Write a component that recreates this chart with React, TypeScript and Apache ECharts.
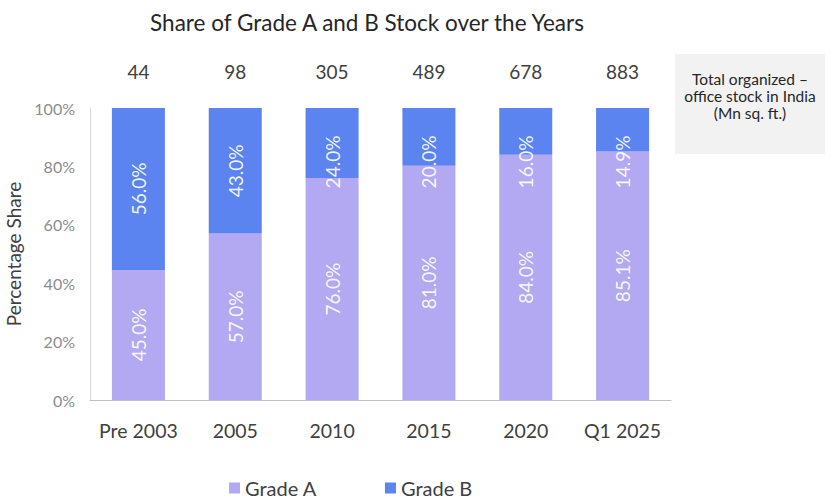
import React, { useEffect, useRef } from "react";
import * as echarts from "echarts";

const categories = ["Pre 2003", "2005", "2010", "2015", "2020", "Q1 2025"];
const gradeA = [45.0, 57.0, 76.0, 81.0, 84.0, 85.1];
const gradeB = [56.0, 43.0, 24.0, 20.0, 16.0, 14.9];
const totalStock = ["44", "98", "305", "489", "678", "883"];
const yTicks = [0, 20, 40, 60, 80, 100];
const noteLines = ["Total organized \u2013", "office stock in India", "(Mn sq. ft.)"];

const FONT = "Lato, 'Open Sans', sans-serif";
const COLOR_A = "#b3a8f2";
const COLOR_B = "#5b84f0";
const PLOT_H = 292;

export default function App() {
  const ref = useRef<HTMLDivElement>(null);
  useEffect(() => {
    document.body.style.margin = "0";
    if (!ref.current) return;
    const chart = echarts.init(ref.current, undefined, { renderer: "svg" });
    const share = (i: number, v: number) => (v / (gradeA[i] + gradeB[i])) * 100;
    const dataA = gradeA.map((v, i) => ({ value: share(i, v), raw: v }));
    const dataB = gradeB.map((v, i) => {
      const segPx = (share(i, v) / 100) * PLOT_H;
      const item: any = { value: share(i, v), raw: v };
      if (segPx / 2 < 54) {
        item.label = { position: ["50%", 54] };
      }
      return item;
    });
    const labelCommon = {
      show: true,
      rotate: 90,
      position: "inside",
      align: "center",
      verticalAlign: "middle",
      color: "rgba(255,255,255,0.92)",
      fontFamily: FONT,
      fontSize: 19,
      formatter: (p: any) => p.data.raw.toFixed(1) + "%",
    };
    chart.setOption({
      animation: false,
      backgroundColor: "#ffffff",
      textStyle: { fontFamily: FONT },
      title: {
        text: "Share of Grade A and B Stock over the Years",
        left: 362,
        textAlign: "center",
        top: 6,
        textStyle: { fontFamily: FONT, fontSize: 22.5, fontWeight: "normal", color: "#262626" },
      },
      grid: { left: 90, right: 154, top: 108, bottom: 102, outerBoundsMode: "none", containLabel: false },
      legend: {
        left: 224,
        top: 473,
        itemWidth: 11,
        itemHeight: 11,
        itemGap: 68,
        icon: "rect",
        textStyle: { fontFamily: FONT, fontSize: 20, color: "#404040" },
        data: ["Grade A", "Grade B"],
      },
      xAxis: [
        {
          type: "category",
          data: categories,
          axisLine: { lineStyle: { color: "#bfbfbf" } },
          axisTick: { show: false },
          axisLabel: { fontFamily: FONT, fontSize: 19.5, color: "#404040", margin: 20, interval: 0, hideOverlap: false },
        },
        {
          type: "category",
          position: "top",
          data: totalStock,
          axisLine: { show: false },
          axisTick: { show: false },
          axisLabel: { fontFamily: FONT, fontSize: 19, color: "#404040", margin: 27, interval: 0 },
        },
      ],
      yAxis: {
        type: "value",
        min: yTicks[0],
        max: yTicks[yTicks.length - 1],
        interval: 20,
        name: "Percentage Share",
        nameLocation: "middle",
        nameGap: 64,
        nameTextStyle: { fontFamily: FONT, fontSize: 19, color: "#404040" },
        axisLine: { show: true, lineStyle: { color: "#d9d9d9" } },
        axisTick: { show: false },
        splitLine: { show: false },
        axisLabel: { fontFamily: FONT, fontSize: 16, color: "#8c8c8c", margin: 15, formatter: "{value}%" },
      },
      graphic: [
        {
          type: "rect",
          shape: { x: 675, y: 54, width: 150, height: 100 },
          style: { fill: "#f2f2f2" },
        },
        ...noteLines.map((t, i) => ({
          type: "text",
          x: 750,
          y: 79 + i * 17,
          style: {
            text: t,
            fill: "#262626",
            font: `15.5px ${FONT}`,
            textAlign: "center",
            textVerticalAlign: "middle",
          },
        })),
      ],
      series: [
        {
          name: "Grade A",
          type: "bar",
          stack: "total",
          barWidth: 53,
          itemStyle: { color: COLOR_A },
          label: labelCommon,
          data: dataA,
        },
        {
          name: "Grade B",
          type: "bar",
          stack: "total",
          barWidth: 53,
          itemStyle: { color: COLOR_B },
          label: labelCommon,
          data: dataB,
        },
      ],
    });
    return () => chart.dispose();
  }, []);
  return <div ref={ref} style={{ width: 825, height: 502 }} />;
}
